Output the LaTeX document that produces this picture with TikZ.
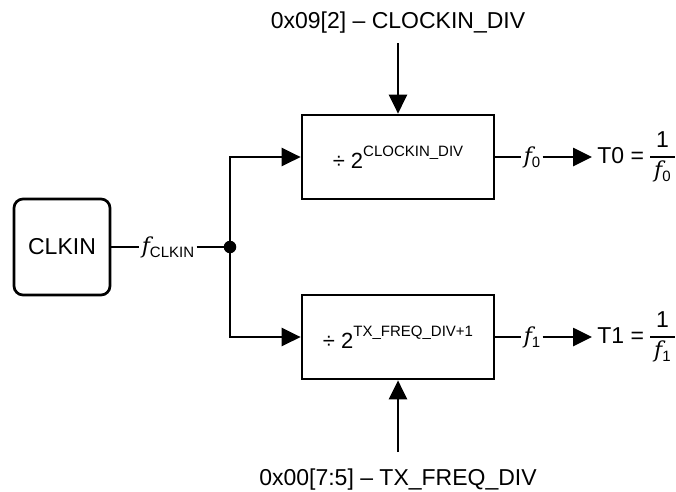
\documentclass[tikz,border=0pt]{standalone}
\usepackage{fontspec}
\setmainfont{Liberation Sans}
\newfontfamily\ffam{DejaVu Serif}
\usetikzlibrary{arrows.meta}
\newcommand{\fv}{{\ffam\itshape\fontsize{22}{26}\selectfont f}}
\newcommand{\subtx}[1]{\raisebox{-4pt}{\fontsize{15}{15}\selectfont #1}}
\newcommand{\suptx}[1]{\raisebox{12pt}{\fontsize{15}{15}\selectfont #1}}
\newcommand{\fracf}[1]{\setlength{\arrayrulewidth}{1.6pt}\renewcommand{\arraystretch}{1.05}\begin{tabular}{@{\,}c@{\,}}1\\\hline\fv\subtx{#1}\end{tabular}}
\begin{document}
\begin{tikzpicture}[x=1pt,y=-1pt,line width=2.7pt,
  every node/.style={font=\fontsize{23}{27}\selectfont},
  blk/.style={draw,rectangle,minimum width=192pt,minimum height=84pt,inner sep=0pt,font=\fontsize{22}{26}\selectfont},
  lbl/.style={inner sep=1pt},
  tip/.style={-{Triangle[length=19pt,width=18pt]}}]
\useasboundingbox (0,0) rectangle (676,491);
\node[draw,rounded corners=9pt,minimum width=96pt,minimum height=96pt,inner sep=0pt] (clkin) at (62,247) {CLKIN};
\node[lbl] (fclk) at (168,247) {\fv\subtx{CLKIN}};
\node[circle,fill,inner sep=0pt,minimum size=12.5pt] (dot) at (230,247) {};
\node[blk] (div0) at (398,157) {÷ 2\suptx{CLOCKIN\_DIV}};
\node[blk] (div1) at (398,337) {÷ 2\suptx{TX\_FREQ\_DIV+1}};
\node[anchor=base] (reg0) at (398,28) {0x09[2] – CLOCKIN\_DIV};
\node[anchor=base] (reg1) at (398,485) {0x00[7:5] – TX\_FREQ\_DIV};
\coordinate (in0) at (398,43);
\coordinate (in1) at (398,452);
\node[lbl] (f0) at (532,157) {\fv\subtx{0}};
\node[lbl] (f1) at (532,337) {\fv\subtx{1}};
\node[anchor=west,inner sep=4pt] (T0) at (592,157) {T0 = \fracf{0}};
\node[anchor=west,inner sep=4pt] (T1) at (592,337) {T1 = \fracf{1}};
\draw (clkin.east) -- (fclk.west);
\draw (fclk.east) -- (dot.center);
\draw[tip] (dot.center) |- (div0.west);
\draw[tip] (dot.center) |- (div1.west);
\draw[tip] (in0) -- (div0.north);
\draw[tip] (in1) -- (div1.south);
\draw (div0.east) -- (f0.west);
\draw[tip] (f0.east) -- (T0.west);
\draw (div1.east) -- (f1.west);
\draw[tip] (f1.east) -- (T1.west);
\end{tikzpicture}
\end{document}
